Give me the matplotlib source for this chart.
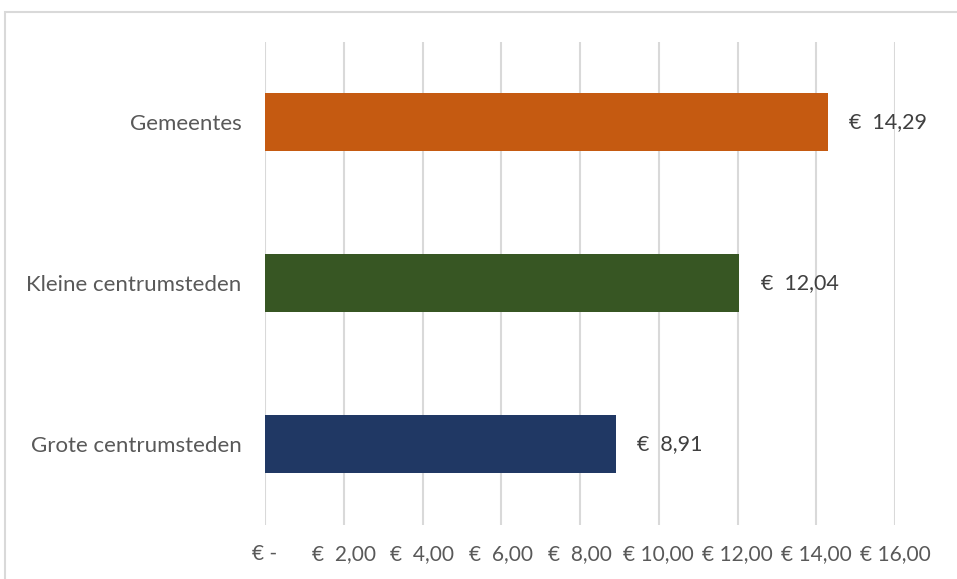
import matplotlib.pyplot as plt
import matplotlib.patches as patches

categories = ['Grote centrumsteden', 'Kleine centrumsteden', 'Gemeentes']
values = [8.91, 12.04, 14.29]
colors = ['#203864', '#375623', '#C55A11']
x_ticks = [0, 2, 4, 6, 8, 10, 12, 14, 16]
x_tick_labels = ['€ -', '€  2,00', '€  4,00', '€  6,00', '€  8,00',
                 '€ 10,00', '€ 12,00', '€ 14,00', '€ 16,00']

plt.rcParams['font.family'] = ['Lato', 'DejaVu Sans']

W, H = 957, 579
fig = plt.figure(figsize=(W / 100, H / 100), dpi=100)
ax = fig.add_axes([265 / W, 1 - 524.5 / H, (895 - 265) / W, (524.5 - 41.5) / H])

# chart border (cropped on the right and bottom)
fig.patches.append(patches.Rectangle((5 / W, -0.05), 1.0, (H - 12) / H + 0.05,
                                     transform=fig.transFigure, fill=False,
                                     edgecolor='#D9D9D9', linewidth=1.5))

ypos = range(len(categories))
ax.barh(ypos, values, height=0.36, color=colors, zorder=3)

for y, v in zip(ypos, values):
    label = f"€  {v:.2f}".replace('.', ',')
    ax.text(v + 0.55, y, label, va='center', ha='left', fontsize=15.5, color='#404040')

ax.set_xlim(0, 16)
ax.set_ylim(-0.5, 2.5)
ax.set_xticks(x_ticks)
ax.set_xticklabels(x_tick_labels, fontsize=15, color='#595959')
ax.set_yticks(list(ypos))
ax.set_yticklabels(categories, fontsize=16, color='#595959')
ax.tick_params(axis='both', length=0)
ax.tick_params(axis='y', pad=17)
ax.tick_params(axis='x', pad=14)
ax.grid(axis='x', color='#D9D9D9', linewidth=1.5, zorder=0)
ax.set_axisbelow(True)
for s in ax.spines.values():
    s.set_visible(False)

fig.savefig('out.png', dpi=100)
